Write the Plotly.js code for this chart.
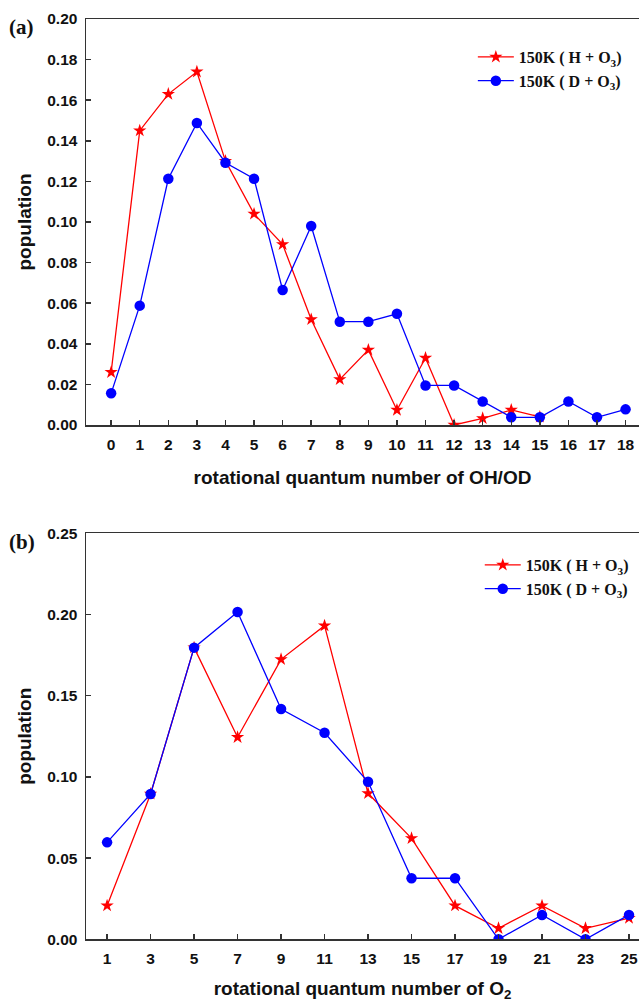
<!DOCTYPE html>
<html>
<head>
<meta charset="utf-8">
<script src="https://cdn.plot.ly/plotly-3.0.1.min.js"></script>
<style>html,body{margin:0;padding:0;background:#fff;}#chart{width:639px;height:1002px;}</style>
</head>
<body>
<div id="chart"></div>
<script>
// Panel (a): OH/OD rotational quantum number
const jA_H = [0,1,2,3,4,5,6,7,8,9,10,11,12,13,14,15];
const popA_H = [0.026,0.145,0.163,0.174,0.130,0.104,0.089,0.052,0.0225,0.037,0.0074,0.033,0.0,0.0033,0.0074,0.0040];
const jA_D = [0,1,2,3,4,5,6,7,8,9,10,11,12,13,14,15,16,17,18];
const popA_D = [0.0156,0.0588,0.1213,0.1488,0.1292,0.1213,0.0665,0.098,0.0509,0.0509,0.0548,0.0195,0.0195,0.0116,0.0038,0.0038,0.0116,0.0038,0.0077];
const ticksA = [0,1,2,3,4,5,6,7,8,9,10,11,12,13,14,15,16,17,18];
// Panel (b): O2 rotational quantum number
const jB = [1,3,5,7,9,11,13,15,17,19,21,23,25];
const popB_H = [0.0207,0.0895,0.1796,0.1244,0.1724,0.1931,0.0899,0.0622,0.0207,0.0068,0.0207,0.0068,0.013];
const popB_D = [0.0597,0.0895,0.1796,0.2015,0.1418,0.1272,0.097,0.0376,0.0376,0.0,0.015,0.0,0.015];
const ticksB = [1,3,5,7,9,11,13,15,17,19,21,23,25];
const nameH = '150K ( H + O<sub>3</sub>)';
const nameD = '150K ( D + O<sub>3</sub>)';

const RED = '#ff0000', BLUE = '#0000ff';
const sans = 'Liberation Sans, Arial, sans-serif';
const serif = 'Liberation Serif, Times New Roman, serif';
const H = 1002;

const traces = [
  {x: jA_H, y: popA_H, name: nameH, type: 'scatter', mode: 'lines+markers', xaxis: 'x', yaxis: 'y', legend: 'legend',
   line: {color: RED, width: 1.3}, marker: {symbol: 'star', size: 10, color: RED}},
  {x: jA_D, y: popA_D, name: nameD, type: 'scatter', mode: 'lines+markers', xaxis: 'x', yaxis: 'y', legend: 'legend',
   line: {color: BLUE, width: 1.3}, marker: {symbol: 'circle', size: 10.5, color: BLUE}},
  {x: jB, y: popB_H, name: nameH, type: 'scatter', mode: 'lines+markers', xaxis: 'x2', yaxis: 'y2', legend: 'legend2',
   line: {color: RED, width: 1.3}, marker: {symbol: 'star', size: 10, color: RED}},
  {x: jB, y: popB_D, name: nameD, type: 'scatter', mode: 'lines+markers', xaxis: 'x2', yaxis: 'y2', legend: 'legend2',
   line: {color: BLUE, width: 1.3}, marker: {symbol: 'circle', size: 10.5, color: BLUE}}
];

const axBase = {
  showline: true, linecolor: '#333', linewidth: 1.5, showgrid: false, zeroline: false,
  ticks: 'inside', ticklen: 5, tickwidth: 1.5, tickcolor: '#333',
  tickfont: {family: sans, size: 15.5, color: '#111', weight: 'bold'}
};
const titleFont = {family: sans, size: 19, color: '#111', weight: 'bold'};

const layout = {
  width: 639, height: 1002,
  margin: {l: 86, r: 0, t: 0, b: 0},
  paper_bgcolor: '#fff', plot_bgcolor: '#fff',
  showlegend: true,
  xaxis: Object.assign({}, axBase, {
    domain: [0, 1], anchor: 'y', range: [-0.88, 18.47], tickvals: ticksA, mirror: true,
    ticklabelstandoff: 5,
    title: {text: 'rotational quantum number of OH/OD', font: titleFont, standoff: 18}
  }),
  yaxis: Object.assign({}, axBase, {
    domain: [1 - 425/H, 1 - 19/H], anchor: 'x', range: [0, 0.2], dtick: 0.02, tickformat: '.2f',
    ticklabelstandoff: 4,
    title: {text: 'population', font: titleFont, standoff: 10}
  }),
  xaxis2: Object.assign({}, axBase, {
    domain: [0, 1], anchor: 'y2', range: [0.03, 25.46], tickvals: ticksB, mirror: true,
    ticklabelstandoff: 5,
    title: {text: 'rotational quantum number of O<sub>2</sub>', font: titleFont, standoff: 18}
  }),
  yaxis2: Object.assign({}, axBase, {
    domain: [1 - 939.3/H, 1 - 533.3/H], anchor: 'x2', range: [0, 0.25], dtick: 0.05, tickformat: '.2f',
    ticklabelstandoff: 4,
    title: {text: 'population', font: titleFont, standoff: 10}
  }),
  legend: {x: 447/639, y: 1 - 40/H, xanchor: 'left', yanchor: 'top', bgcolor: 'rgba(0,0,0,0)',
           font: {family: serif, size: 16, color: '#111', weight: 'bold'}, itemwidth: 36},
  legend2: {x: 455/639, y: 1 - 548/H, xanchor: 'left', yanchor: 'top', bgcolor: 'rgba(0,0,0,0)',
           font: {family: serif, size: 16, color: '#111', weight: 'bold'}, itemwidth: 36},
  annotations: [
    {text: '(a)', xref: 'paper', yref: 'paper', x: 25/639 - 86/553, y: 1 - 27/H, showarrow: false,
     font: {family: serif, size: 21, color: '#111', weight: 'bold'}, xanchor: 'center', yanchor: 'middle'},
    {text: '(b)', xref: 'paper', yref: 'paper', x: 25/639 - 86/553, y: 1 - 542/H, showarrow: false,
     font: {family: serif, size: 21, color: '#111', weight: 'bold'}, xanchor: 'center', yanchor: 'middle'}
  ]
};

Plotly.newPlot('chart', traces, layout, {displayModeBar: false, staticPlot: true});
</script>
</body>
</html>
